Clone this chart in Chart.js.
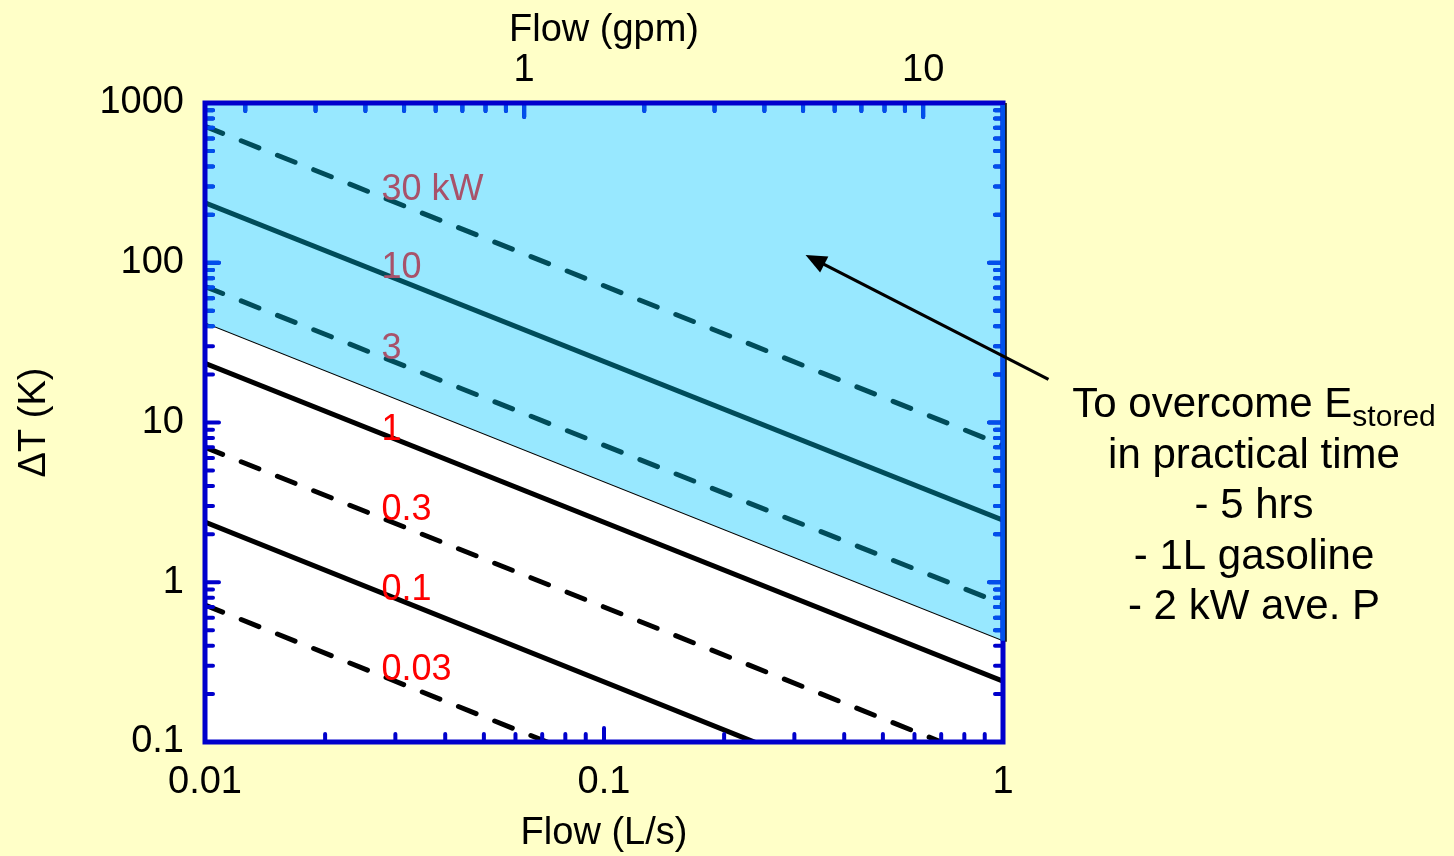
<!DOCTYPE html>
<html><head><meta charset="utf-8">
<script src="https://cdn.jsdelivr.net/npm/chart.js@4"></script>
<style>html,body{margin:0;padding:0;background:#ffffc8;}canvas{display:block}</style>
</head><body>
<canvas id="c" width="1454" height="856"></canvas>
<script>
// ---- data ----
const flowEnds = [0.01, 1];                 // L/s, line end points
const dT_30kW  = [715, 7.2];
const dT_10kW  = [237, 2.45];
const dT_3kW   = [71, 0.73];
const dT_1kW   = [23.5, 0.24];
const dT_03kW  = [7.0, 0.07];
const dT_01kW  = [2.38, 0.0238];
const dT_003kW = [0.72, 0.0072];
const practicalLimit = [42, 0.43];          // lower edge of shaded region
const powerLabels = ['30 kW','10','3','1','0.3','0.1','0.03'];
const labelFlow = 0.0277;
const labelDT = [287, 92, 28.7, 9.0, 2.83, 0.89, 0.28];
const xTicks = [0.01, 0.1, 1];
const xTickLabels = ['0.01','0.1','1'];
const gpmTicks = [1, 10];
const gpmTickLabels = ['1','10'];
const yTicks = [0.1, 1, 10, 100, 1000];
const yTickLabels = ['0.1','1','10','100','1000'];
const GPM_TO_LPS = 0.06309;
const arrowFrom = {x: 1.3, y: 18.6};
const arrowTo = {x: 0.32, y: 112};
const noteLines = ['To overcome E', 'in practical time', '- 5 hrs', '- 1L gasoline', '- 2 kW ave. P'];
const noteSub = 'stored';

// ---- style ----
const BG = '#ffffc8', CYAN = '#98e8ff', TEAL = '#004c5a', MAUVE = '#a8526a', RED = '#ff0000';
const FRAME = '#0000cc', TICK_LIGHT = '#0050ec';
const DASH = [19, 20];
const FONT = "'Liberation Sans', Arial, sans-serif";
Chart.defaults.font.family = FONT;
Chart.defaults.color = '#000';

const pts = ys => flowEnds.map((x, i) => ({x, y: ys[i]}));
const lineDS = (ys, color, dashed) => ({
  data: pts(ys), borderColor: color, borderWidth: 5, borderDash: dashed ? DASH : [],
  borderCapStyle: dashed ? 'round' : 'butt', pointRadius: 0, fill: false, tension: 0, order: 0
});

function tickVals(lo, hi) {
  const out = [];
  for (let k = -3; k <= 4; k++) {
    const d = Math.pow(10, k);
    for (let m = 1; m < 10; m++) {
      const v = d * m;
      if (v > lo * 1.001 && v < hi * 0.999) out.push({v, major: m === 1});
    }
  }
  return out;
}

function drawTicks(chart, color) {
  const {ctx, chartArea: a, scales} = chart;
  const xs = scales.x, x2 = scales.x2, ys = scales.y;
  ctx.strokeStyle = color; ctx.lineWidth = 4; ctx.lineCap = 'round';
  const MAJ = 14, MIN = 8;
  ctx.beginPath();
  tickVals(xs.min, xs.max).forEach(t => {
    const p = xs.getPixelForValue(t.v), L = t.major ? MAJ : MIN;
    ctx.moveTo(p, a.bottom); ctx.lineTo(p, a.bottom - L);
  });
  tickVals(x2.min, x2.max).forEach(t => {
    const p = x2.getPixelForValue(t.v), L = t.major ? MAJ : MIN;
    ctx.moveTo(p, a.top); ctx.lineTo(p, a.top + L);
  });
  tickVals(ys.min, ys.max).forEach(t => {
    const p = ys.getPixelForValue(t.v), L = t.major ? MAJ : MIN;
    ctx.moveTo(a.left, p); ctx.lineTo(a.left + L, p);
    ctx.moveTo(a.right, p); ctx.lineTo(a.right - L, p);
  });
  ctx.stroke();
}

const overlay = {
  id: 'overlay',
  beforeDraw(chart) {
    const {ctx, chartArea: a} = chart;
    ctx.save();
    ctx.fillStyle = BG; ctx.fillRect(0, 0, chart.width, chart.height);
    ctx.fillStyle = '#fff'; ctx.fillRect(a.left, a.top, a.right - a.left, a.bottom - a.top);
    ctx.restore();
  },
  afterDatasetsDraw(chart) {
    const {ctx, chartArea: a, scales} = chart;
    const xs = scales.x, ys = scales.y;
    ctx.save();
    // inward ticks (dark in white area, lighter inside the shaded area)
    drawTicks(chart, FRAME);
    const bx0 = xs.getPixelForValue(flowEnds[0]), by0 = ys.getPixelForValue(practicalLimit[0]);
    const bx1 = xs.getPixelForValue(flowEnds[1]), by1 = ys.getPixelForValue(practicalLimit[1]);
    ctx.save();
    ctx.beginPath();
    ctx.moveTo(bx0 - 10, by0); ctx.lineTo(bx1 + 10, by1);
    ctx.lineTo(bx1 + 10, a.top - 10); ctx.lineTo(bx0 - 10, a.top - 10); ctx.closePath();
    ctx.clip();
    drawTicks(chart, TICK_LIGHT);
    ctx.restore();
    // frame
    ctx.strokeStyle = FRAME; ctx.lineWidth = 5; ctx.lineCap = 'butt';
    ctx.strokeRect(a.left, a.top, a.right - a.left, a.bottom - a.top);
    // right edge of shaded region
    ctx.strokeStyle = TICK_LIGHT; ctx.lineWidth = 5;
    ctx.beginPath(); ctx.moveTo(a.right, a.top + 2); ctx.lineTo(a.right, by1); ctx.stroke();
    ctx.strokeStyle = '#000'; ctx.lineWidth = 1.5;
    ctx.beginPath(); ctx.moveTo(a.right + 3, a.top); ctx.lineTo(a.right + 3, by1 + 1); ctx.stroke();
    // power labels
    ctx.font = '36px ' + FONT; ctx.textAlign = 'left'; ctx.textBaseline = 'middle';
    powerLabels.forEach((t, i) => {
      ctx.fillStyle = i < 3 ? MAUVE : RED;
      ctx.fillText(t, xs.getPixelForValue(labelFlow), ys.getPixelForValue(labelDT[i]));
    });
    // arrow
    const fx = xs.getPixelForValue(arrowFrom.x), fy = ys.getPixelForValue(arrowFrom.y);
    const tx = xs.getPixelForValue(arrowTo.x), ty = ys.getPixelForValue(arrowTo.y);
    const ang = Math.atan2(ty - fy, tx - fx);
    const HL = 21, HW = 9;
    ctx.strokeStyle = '#000'; ctx.fillStyle = '#000'; ctx.lineWidth = 3.2; ctx.lineCap = 'butt';
    ctx.beginPath(); ctx.moveTo(fx, fy);
    ctx.lineTo(tx - (HL - 4) * Math.cos(ang), ty - (HL - 4) * Math.sin(ang)); ctx.stroke();
    ctx.beginPath(); ctx.moveTo(tx, ty);
    ctx.lineTo(tx - HL * Math.cos(ang) + HW * Math.sin(ang), ty - HL * Math.sin(ang) - HW * Math.cos(ang));
    ctx.lineTo(tx - HL * Math.cos(ang) - HW * Math.sin(ang), ty - HL * Math.sin(ang) + HW * Math.cos(ang));
    ctx.closePath(); ctx.fill();
    // note
    const cx = a.right + 251;
    ctx.fillStyle = '#000'; ctx.textBaseline = 'alphabetic';
    noteLines.forEach((t, i) => {
      const by = a.top + 314 + i * 50.5;
      if (i === 0) {
        ctx.font = '42px ' + FONT; const w1 = ctx.measureText(t).width;
        ctx.font = '30px ' + FONT; const w2 = ctx.measureText(noteSub).width;
        const sx = cx - (w1 + w2) / 2;
        ctx.textAlign = 'left';
        ctx.font = '42px ' + FONT; ctx.fillText(t, sx, by);
        ctx.font = '30px ' + FONT; ctx.fillText(noteSub, sx + w1, by + 9);
      } else {
        ctx.font = '42px ' + FONT; ctx.textAlign = 'center'; ctx.fillText(t, cx, by);
      }
    });
    ctx.restore();
  }
};

const axisFont = {size: 38, family: FONT};
new Chart(document.getElementById('c'), {
  type: 'line',
  data: {
    datasets: [
      lineDS(dT_30kW, TEAL, true),
      lineDS(dT_10kW, TEAL, false),
      lineDS(dT_3kW, TEAL, true),
      lineDS(dT_1kW, '#000', false),
      lineDS(dT_03kW, '#000', true),
      lineDS(dT_01kW, '#000', false),
      lineDS(dT_003kW, '#000', true),
      {data: pts(practicalLimit), borderColor: '#000', borderWidth: 1.2, pointRadius: 0,
       fill: 'end', backgroundColor: CYAN, tension: 0, order: 10}
    ]
  },
  options: {
    responsive: false, animation: false, events: [],
    layout: {padding: {left: 0, right: 451, top: 0, bottom: 0}},
    plugins: {legend: {display: false}, tooltip: {enabled: false}},
    scales: {
      x: {
        type: 'logarithmic', position: 'bottom', min: 0.01, max: 1,
        grid: {display: false, drawTicks: false}, border: {display: false},
        afterBuildTicks: s => { s.ticks = xTicks.map(v => ({value: v})); },
        afterFit: s => { s.height = 114; },
        ticks: {font: axisFont, padding: 18, maxRotation: 0, autoSkip: false,
                callback: (v, i) => xTickLabels[i]},
        title: {display: true, text: 'Flow (L/s)', font: axisFont, padding: {top: 0, bottom: 0}}
      },
      x2: {
        type: 'logarithmic', position: 'top', min: 0.01 / GPM_TO_LPS, max: 1 / GPM_TO_LPS,
        grid: {display: false, drawTicks: false}, border: {display: false},
        afterBuildTicks: s => { s.ticks = gpmTicks.map(v => ({value: v})); },
        afterFit: s => { s.height = 103; },
        ticks: {font: axisFont, padding: 10, maxRotation: 0, autoSkip: false,
                callback: (v, i) => gpmTickLabels[i]},
        title: {display: true, text: 'Flow (gpm)', font: axisFont, padding: {top: 8, bottom: 0}}
      },
      y: {
        type: 'logarithmic', position: 'left', min: 0.1, max: 1000,
        grid: {display: false, drawTicks: false}, border: {display: false},
        afterBuildTicks: s => { s.ticks = yTicks.map(v => ({value: v})); },
        afterFit: s => { s.width = 205; },
        ticks: {font: axisFont, padding: 21, autoSkip: false,
                callback: (v, i) => yTickLabels[i]},
        title: {display: true, text: '\u0394T (K)', font: axisFont, padding: {top: 12, bottom: 0}}
      }
    }
  },
  plugins: [overlay]
});
</script>
</body></html>
